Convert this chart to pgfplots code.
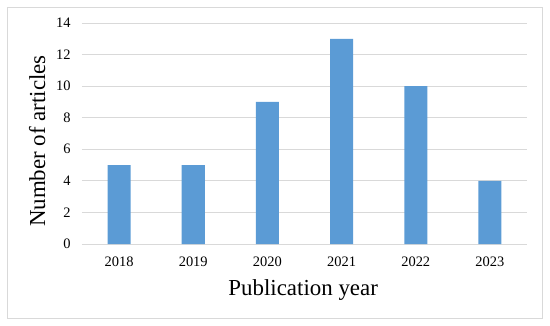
\documentclass[border=0pt]{standalone}
\usepackage{pgfplots}
\pgfplotsset{compat=1.18}
\usepackage{fontspec}
\setmainfont{Liberation Serif}
\definecolor{barblue}{HTML}{5B9BD5}
\definecolor{gridgray}{HTML}{D9D9D9}
\begin{document}
\begin{tikzpicture}[x=1bp,y=1bp]
\path[use as bounding box] (-82bp,-82bp) rectangle (468bp,244bp);
\draw[gridgray, line width=0.8bp] (-75bp,-74bp) rectangle (460bp,237bp);
\begin{axis}[
  at={(0,0)}, anchor=south west,
  scale only axis, width=445bp, height=221bp,
  xmin=-0.5, xmax=5.5, ymin=0, ymax=14,
  ytick={0,2,...,14},
  xtick={0,1,2,3,4,5},
  xticklabels={2018,2019,2020,2021,2022,2023},
  axis line style={draw=none},
  axis x line*=bottom,
  x axis line style={draw=gridgray, line width=0.8bp},
  ymajorgrids, grid style={gridgray, line width=0.8bp},
  major tick length=0pt,
  tick label style={font=\fontsize{14.5}{16}\selectfont},
  /pgf/number format/assume math mode=true,
  yticklabel style={xshift=-8bp},
  xticklabel style={yshift=-9bp},
  ylabel={Number of articles},
  xlabel={Publication year},
  label style={font=\fontsize{23}{26}\selectfont},
  ylabel style={at={(axis description cs:-0.101,0.466)}, anchor=center},
  xlabel style={at={(axis description cs:0.497,-0.208)}, anchor=center},
  clip=false,
]
\addplot[ybar, bar width=23bp, fill=barblue, draw=none] coordinates {
(0,5) (1,5) (2,9) (3,13) (4,10) (5,4)};
\end{axis}
\end{tikzpicture}
\end{document}
